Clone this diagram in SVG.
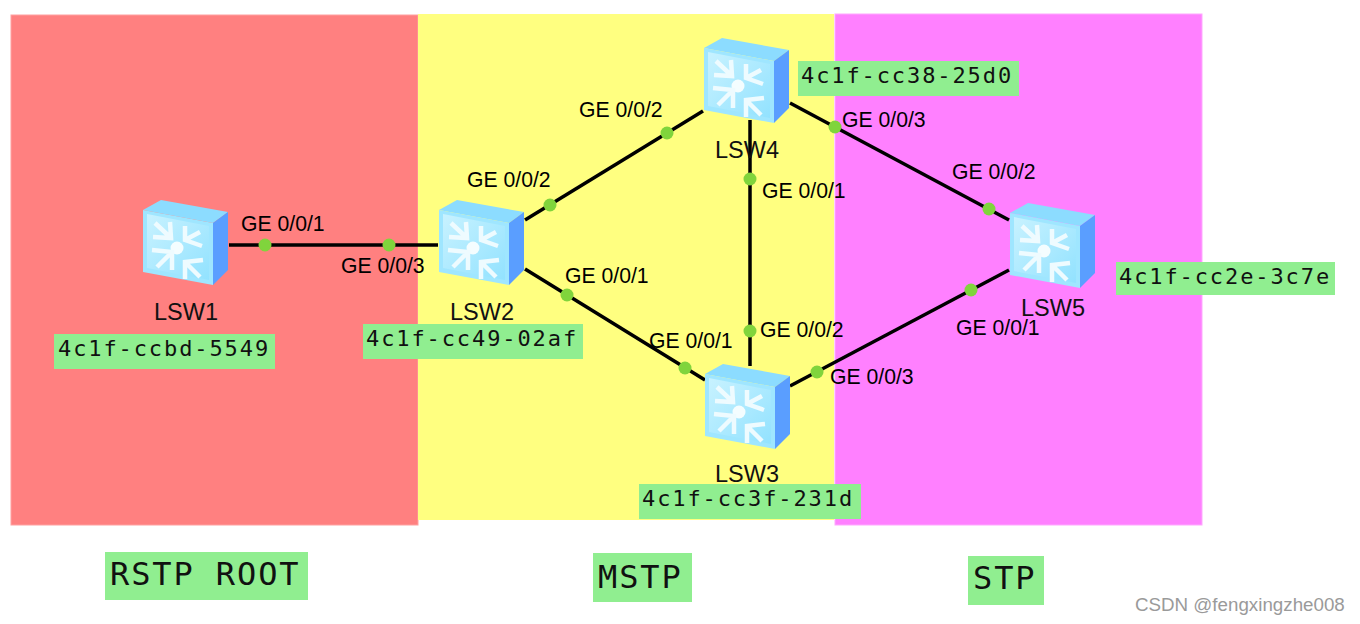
<svg xmlns="http://www.w3.org/2000/svg" width="1360" height="624" viewBox="0 0 1360 624">
<style>
.t{font-family:"Liberation Sans",Arial,sans-serif;font-size:23.5px;fill:#111}
.p{font-family:"Liberation Sans",Arial,sans-serif;font-size:21.2px;fill:#000}
.m{font-family:"DejaVu Sans Mono",monospace;font-size:22px;letter-spacing:1.9px;fill:#111}
.b{font-family:"DejaVu Sans Mono",monospace;font-size:32px;letter-spacing:1.9px;fill:#111}
.g{fill:#90ee90}
.l{stroke:#000;stroke-width:3.5;fill:none}
.d{fill:#80d43c}
</style>
<defs>
<linearGradient id="fr" x1="0" y1="0" x2="1" y2="1"><stop offset="0" stop-color="#c8f2ff"/><stop offset="1" stop-color="#92e2ff"/></linearGradient>
<g id="sw">
<path d="M1 10L19 0L86 12L71 23Z" fill="#8cdcff"/>
<path d="M71 23L86 12V70L71 85Z" fill="#5a9eff"/>
<path d="M1 10L71 23V85L1 72Z" fill="#9fe6ff"/>
<path d="M5 14L67 26V80L5 68Z" fill="url(#fr)"/>
<circle cx="35" cy="48" r="6.5" fill="#f4fdff"/>
<g stroke="#eefbff" stroke-width="4.5" fill="none">
<path d="M13 23L29 38M11 37L29 38L28 22"/>
<path d="M58 32L43 40M43 26V40L60 46"/>
<path d="M15 67L30 52M10 50L30 52V70"/>
<path d="M58 77L43 62M43 79V62L61 60"/>
</g>
</g>
</defs>
<rect x="0" y="0" width="1360" height="624" fill="#fff"/>
<g id="zones">
<rect x="11" y="15" width="407" height="510" fill="#ff8080" stroke="#ffa0a0"/>
<rect x="418" y="14" width="416" height="506" fill="#ffff80"/>
<rect x="835" y="14" width="367" height="511" fill="#ff80ff" stroke="#ffa8ff"/>
</g>
<g id="connectors" class="l">
<path d="M229 245H438"/>
<path d="M525 220L703 111"/>
<path d="M525 269L705 380"/>
<path d="M750 120V366"/>
<path d="M790 103L1009 220"/>
<path d="M790 386L1009 270"/>
</g>
<g id="ports" class="d">
<circle cx="265" cy="245" r="6.5"/><circle cx="389" cy="245" r="6.5"/>
<circle cx="550" cy="205" r="6.5"/><circle cx="667" cy="133" r="6.5"/>
<circle cx="567" cy="295" r="6.5"/><circle cx="685" cy="368" r="6.5"/>
<circle cx="750" cy="179" r="6.5"/><circle cx="750" cy="331" r="6.5"/>
<circle cx="835" cy="127" r="6.5"/><circle cx="989" cy="209" r="6.5"/>
<circle cx="817" cy="372" r="6.5"/><circle cx="971" cy="290" r="6.5"/>
</g>
<g id="LSW1"><use href="#sw" x="142" y="200"/><text class="t" x="154" y="320">LSW1</text><rect class="g" x="54" y="334" width="221" height="35"/><text class="m" x="58" y="356">4c1f-ccbd-5549</text></g>
<g id="LSW2"><use href="#sw" x="438" y="200"/><text class="t" x="450" y="320">LSW2</text><rect class="g" x="363" y="324" width="220" height="35"/><text class="m" x="366" y="346">4c1f-cc49-02af</text></g>
<g id="LSW4"><use href="#sw" x="703" y="38"/><text class="t" x="715" y="158">LSW4</text><rect class="g" x="798" y="61" width="221" height="35"/><text class="m" x="801" y="83">4c1f-cc38-25d0</text></g>
<g id="LSW3"><use href="#sw" x="704" y="364"/><text class="t" x="715" y="482">LSW3</text><rect class="g" x="639" y="484" width="222" height="35"/><text class="m" x="642" y="506">4c1f-cc3f-231d</text></g>
<g id="LSW5"><use href="#sw" x="1009" y="203"/><text class="t" x="1021" y="316">LSW5</text><rect class="g" x="1116" y="262" width="219" height="33"/><text class="m" x="1119" y="284">4c1f-cc2e-3c7e</text></g>
<g id="port-labels">
<text class="p" x="241" y="231">GE 0/0/1</text>
<text class="p" x="341" y="273">GE 0/0/3</text>
<text class="p" x="467" y="187">GE 0/0/2</text>
<text class="p" x="579" y="117">GE 0/0/2</text>
<text class="p" x="565" y="283">GE 0/0/1</text>
<text class="p" x="649" y="348">GE 0/0/1</text>
<text class="p" x="762" y="198">GE 0/0/1</text>
<text class="p" x="760" y="337">GE 0/0/2</text>
<text class="p" x="842" y="127">GE 0/0/3</text>
<text class="p" x="952" y="179">GE 0/0/2</text>
<text class="p" x="956" y="335">GE 0/0/1</text>
<text class="p" x="830" y="384">GE 0/0/3</text>
</g>
<g id="zone-labels">
<rect class="g" x="105" y="552" width="203" height="48"/><text class="b" x="110" y="585">RSTP ROOT</text>
<rect class="g" x="593" y="553" width="99" height="49"/><text class="b" x="598" y="588">MSTP</text>
<rect class="g" x="968" y="556" width="76" height="49"/><text class="b" x="973" y="589">STP</text>
</g>
<text x="1135" y="611" font-family="'Liberation Sans',Arial,sans-serif" font-size="18.75" fill="#9a9a9a">CSDN @fengxingzhe008</text>
</svg>
